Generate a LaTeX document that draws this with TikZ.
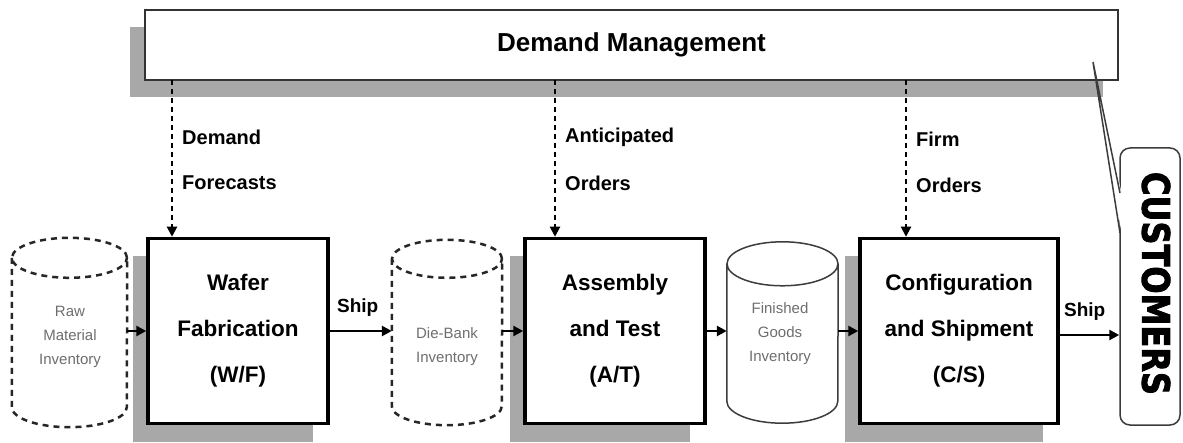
\documentclass[tikz,border=0pt]{standalone}
\usepackage{fontspec}
\setmainfont{Liberation Sans}
\newfontfamily\custfont{DejaVu Sans}[BoldFeatures={FakeBold=2.5}]
\usepackage{graphicx}
\usetikzlibrary{arrows.meta,shadows}
\definecolor{shade}{RGB}{168,168,168}
\definecolor{linegray}{RGB}{60,60,60}
\definecolor{cyltext}{RGB}{110,110,110}
\newcommand\mycyl[4]{%
  \draw[#4] ([yshift=-#3pt]#1.north) ellipse [x radius=#2pt, y radius=#3pt]
    ([yshift=-#3pt]#1.north west) -- ([yshift=#3pt]#1.south west)
    arc [start angle=180, end angle=360, x radius=#2pt, y radius=#3pt]
    -- ([yshift=-#3pt]#1.north east);}
\begin{document}
\begin{tikzpicture}[x=1pt,y=-1pt,
  proc/.style={draw=black, line width=3.5pt, fill=white, minimum width=180pt,
    minimum height=185pt, inner sep=0pt, align=center,
    font=\fontsize{22.5}{46}\selectfont\bfseries,
    drop shadow={shadow xshift=-15pt, shadow yshift=-18pt, fill=shade, opacity=1}},
  cylnode/.style={inner sep=0pt, align=center, text=cyltext,
    font=\fontsize{15}{24}\selectfont},
  dashcyl/.style={draw=black!85, line width=2.5pt, dash pattern=on 6pt off 5pt},
  solidcyl/.style={draw=linegray, line width=1.5pt},
  arr/.style={draw=black, line width=2.5pt, -{Triangle[length=10pt,width=10pt]}},
  darr/.style={draw=black, line width=2pt, dash pattern=on 5pt off 4pt,
    -{Triangle[length=10pt,width=10pt]}},
  lbl/.style={anchor=west, inner sep=0pt, font=\fontsize{20}{24}\selectfont\bfseries},
  shiplbl/.style={inner sep=0pt, font=\fontsize{19}{24}\selectfont\bfseries}]
\useasboundingbox (0,0) rectangle (1183,443);
\fill[white] (0,0) rectangle (1183,443);

% Demand management
\node[draw=black!80, line width=1.5pt, fill=white, minimum width=973pt,
  minimum height=70pt, inner sep=0pt,
  drop shadow={shadow xshift=-15pt, shadow yshift=-17pt, fill=shade, opacity=1},
  font=\fontsize{26}{30}\selectfont\bfseries] (dm) at (631.5,45) {Demand Management};

% process boxes
\node[proc] (wf) at (238,331) {Wafer\\Fabrication\\(W/F)};
\node[proc] (at) at (615,331) {Assembly\\and Test\\(A/T)};
\node[proc, minimum width=198pt] (cs) at (959,331) {Configuration\\and Shipment\\(C/S)};

% inventories
\node[cylnode, minimum width=115pt, minimum height=189pt] (raw) at (69.5,332.5) {};
\mycyl{raw}{57.5}{20}{dashcyl}
\node[cylnode] (rawt) at (70,337) {Raw\\Material\\Inventory};
\node[cylnode, minimum width=110pt, minimum height=185pt] (die) at (447,332.5) {};
\mycyl{die}{55}{19}{dashcyl}
\node[cylnode] (diet) at (447,347) {Die-Bank\\Inventory};
\node[cylnode, minimum width=111pt, minimum height=181pt] (fin) at (782.5,332.5) {};
\mycyl{fin}{55.5}{22}{solidcyl}
\node[cylnode] (fint) at (780,334) {Finished\\Goods\\Inventory};

% customers callout
\node[draw=linegray, line width=1.5pt, rounded corners=10pt, fill=white,
  minimum width=60pt, minimum height=277pt, inner sep=0pt] (cust) at (1150,286.5) {};
\node[inner sep=0pt, rotate=-90] (custt) at (1156,283.5)
  {\resizebox{223pt}{28pt}{\custfont\bfseries CUSTOMERS}};
\coordinate (tip) at (1093,62);
\coordinate (ca) at (1120,193);
\coordinate (cb) at (1120,233);
\fill[white] (tip) -- ([xshift=1.5pt]ca) -- ([xshift=1.5pt]cb) -- cycle;
\draw[linegray, line width=1.5pt, line join=miter] (ca) -- (tip) -- (cb);

% flow arrows
\draw[arr] (raw.east |- wf.west) -- (wf.west);
\draw[arr] (wf.east) -- (wf.east -| die.west) node[shiplbl, pos=0.45, above=13pt] (ship1) {Ship};
\draw[arr] (at.west -| die.east) -- (at.west);
\draw[arr] (at.east) -- (at.east -| fin.west);
\draw[arr] (cs.west -| fin.east) -- (cs.west);
\coordinate (cse) at ([yshift=-4pt]cs.east);
\draw[arr] (cse) -- (cse -| cust.west) node[shiplbl, pos=0.42, above=13pt] (ship2) {Ship};

% demand signals
\coordinate (s1) at (172,80);
\coordinate (s2) at (555,80);
\coordinate (s3) at (906,80);
\draw[darr] (s1) -- (s1 |- wf.north);
\draw[darr] (s2) -- (s2 |- at.north);
\draw[darr] (s3) -- (s3 |- cs.north);
\node[lbl] (l1a) at (182,137) {Demand};
\node[lbl] (l1b) at (182,183) {Forecasts};
\node[lbl] (l2a) at (565,137) {Anticipated};
\node[lbl] (l2b) at (565,183) {Orders};
\node[lbl] (l3a) at (916,139) {Firm};
\node[lbl] (l3b) at (916,185) {Orders};
\end{tikzpicture}
\end{document}
